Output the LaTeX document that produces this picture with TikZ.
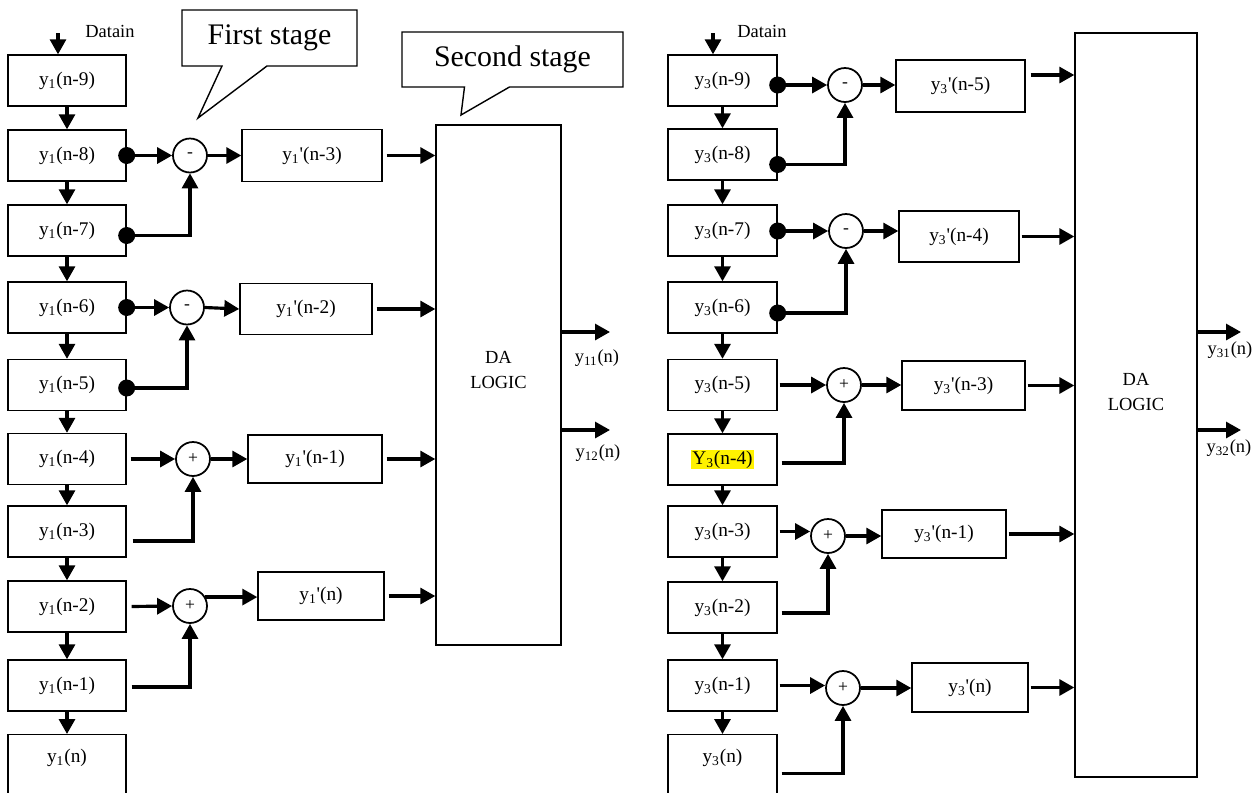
\documentclass[tikz,border=0pt]{standalone}
\usepackage{fontspec}
\setmainfont{Liberation Serif}
\usetikzlibrary{arrows.meta, shapes.callouts}

\begin{document}
\begin{tikzpicture}[x=0.02cm, y=-0.02cm,
    cell/.style={draw, line width=0.8pt, minimum height=1.02cm, inner sep=0pt, font=\fontsize{11}{13}\selectfont},
    sum/.style={draw, circle, line width=1pt, minimum size=0.68cm, inner sep=0pt, font=\normalsize},
    flow/.style={line width=1.8pt, -{Triangle[length=0.3cm, width=0.32cm]}},
    da/.style={draw, line width=0.8pt, align=center, font=\fontsize{10.5}{14}\selectfont},
    tag/.style={rectangle callout, draw, line width=0.8pt, callout pointer width=0.9cm, font=\fontsize{17}{20}\selectfont},
    lbl/.style={font=\fontsize{10.5}{12}\selectfont}]
    \useasboundingbox (0,0) rectangle (1259,792);
    \clip (0,0) rectangle (1259,792);

    % first filter: delay line
    \foreach \i/\t/\y in {1/-9/80.5, 2/-8/155.5, 3/-7/230.5, 4/-6/307.5, 5/-5/385, 6/-4/459, 7/-3/531.5, 8/-2/606.5, 9/-1/685.5}
        \node[cell, minimum width=2.36cm] (l\i) at (67,\y) {y\textsubscript{1}(n\t)};
    \node[cell, minimum width=2.36cm, minimum height=1.4cm, text depth=0.55cm, anchor=north] (l10) at (67,734) {y\textsubscript{1}(n)};
    \foreach \i [count=\j from 2] in {1,...,9}
        \draw[flow] (l\i.south) -- (l\j.north);
    \coordinate (inL) at (58,33);
    \draw[flow] (inL) -- (inL |- l1.north);
    \node[lbl] (dinL) at (110,31) {Datain};

    \node[sum] (m1) at (190,155.5) {-};
    \node[sum] (m2) at (187,307.5) {-};
    \node[sum] (m3) at (193,459) {+};
    \node[sum] (m4) at (190,606) {+};

    \node[cell, minimum width=2.8cm, minimum height=1.04cm] (p1) at (312,155.5) {y\textsubscript{1}\textquotesingle(n-3)};
    \node[cell, minimum width=2.64cm] (p2) at (306,309) {y\textsubscript{1}\textquotesingle(n-2)};
    \node[cell, minimum width=2.68cm, minimum height=0.96cm] (p3) at (315,459) {y\textsubscript{1}\textquotesingle(n-1)};
    \node[cell, minimum width=2.52cm, minimum height=0.96cm] (p4) at (321,596) {y\textsubscript{1}\textquotesingle(n)};

    \fill (l2.east) circle (0.17cm);
    \fill ([yshift=-0.1cm]l3.east) circle (0.17cm);
    \fill (l4.east) circle (0.17cm);
    \fill ([yshift=-0.06cm]l5.east) circle (0.17cm);
    \draw[flow] (l2.east) -- (m1.west);
    \draw[flow] ([yshift=-0.1cm]l3.east) -| (m1.south);
    \draw[flow] (l4.east) -- (m2.west);
    \draw[flow] ([yshift=-0.06cm]l5.east) -| (m2.south);
    \draw[flow] ([xshift=0.08cm]l6.east) -- (m3.west);
    \draw[flow] ([shift={(0.12cm,-0.19cm)}]l7.east) -| (m3.south);
    \draw[flow] ([xshift=0.1cm]l8.east) -- (m4.west);
    \draw[flow] ([shift={(0.1cm,-0.03cm)}]l9.east) -| (m4.south);

    \draw[flow] (m1.east) -- (p1.west);
    \draw[flow] (m2.east) -- (p2.west);
    \draw[flow] (m3.east) -- (p3.west);
    \draw[flow] (m4.30) -- (m4.30 -| p4.west);

    \node[da, minimum width=2.5cm, minimum height=10.4cm, text depth=0.6cm] (da1) at (498.5,385) {DA\\LOGIC};
    \foreach \p in {p1,p2,p3,p4}
        \draw[flow] ([xshift=0.08cm]\p.east) -- (\p.east -| da1.west);
    \coordinate (o11) at (610,332);
    \coordinate (o12) at (610,430);
    \draw[flow] (o11 -| da1.east) -- (o11);
    \draw[flow] (o12 -| da1.east) -- (o12);
    \node[lbl] (t11) at (597,358) {y\textsubscript{11}(n)};
    \node[lbl] (t12) at (598,453) {y\textsubscript{12}(n)};

    \node[tag, minimum width=3.5cm, minimum height=1.12cm, callout absolute pointer={(198,118)}] (st1) at (269.5,38) {First stage};
    \node[tag, minimum width=4.42cm, minimum height=1.1cm, callout absolute pointer={(461,115)}] (st2) at (512.5,59.5) {Second stage};

    % third filter: delay line
    \foreach \i/\t/\y in {1/-9/80.5, 2/-8/154.5, 3/-7/230.5, 4/-6/307.5, 5/-5/385, 7/-3/531.5, 8/-2/607.5, 9/-1/685.5}
        \node[cell, minimum width=2.18cm] (s\i) at (722.5,\y) {y\textsubscript{3}(n\t)};
    \node[cell, minimum width=2.18cm] (s6) at (722.5,459.5) {{\setlength{\fboxsep}{0.6pt}\colorbox{yellow}{Y\textsubscript{3}(n-4)}}};
    \node[cell, minimum width=2.18cm, minimum height=1.4cm, text depth=0.55cm, anchor=north] (s10) at (722.5,734) {y\textsubscript{3}(n)};
    \foreach \i [count=\j from 2] in {1,...,9}
        \draw[flow] (s\i.south) -- (s\j.north);
    \coordinate (inR) at (713,33);
    \draw[flow] (inR) -- (inR |- s1.north);
    \node[lbl] (dinR) at (762,31) {Datain};

    \node[sum] (r1) at (845,85) {-};
    \node[sum] (r2) at (846,231) {-};
    \node[sum] (r3) at (844,385) {+};
    \node[sum] (r4) at (828,536) {+};
    \node[sum] (r5) at (843,688) {+};

    \node[cell, minimum width=2.58cm, minimum height=1.04cm] (q1) at (960.5,86) {y\textsubscript{3}\textquotesingle(n-5)};
    \node[cell, minimum width=2.4cm] (q2) at (959,236.5) {y\textsubscript{3}\textquotesingle(n-4)};
    \node[cell, minimum width=2.46cm, minimum height=0.98cm] (q3) at (963.5,385.5) {y\textsubscript{3}\textquotesingle(n-3)};
    \node[cell, minimum width=2.48cm, minimum height=0.96cm] (q4) at (944,534) {y\textsubscript{3}\textquotesingle(n-1)};
    \node[cell, minimum width=2.32cm, minimum height=0.98cm] (q5) at (970,687.5) {y\textsubscript{3}\textquotesingle(n)};

    \fill (s1.east |- r1) circle (0.17cm);
    \fill ([yshift=-0.2cm]s2.east) circle (0.17cm);
    \fill (s3.east |- r2) circle (0.17cm);
    \fill ([yshift=-0.11cm]s4.east) circle (0.17cm);
    \draw[flow] (s1.east |- r1) -- (r1.west);
    \draw[flow] ([yshift=-0.2cm]s2.east) -| (r1.south);
    \draw[flow] (s3.east |- r2) -- (r2.west);
    \draw[flow] ([yshift=-0.11cm]s4.east) -| (r2.south);
    \draw[flow] ([xshift=0.04cm]s5.east) -- (r3.west);
    \draw[flow] ([shift={(0.08cm,-0.07cm)}]s6.east) -| (r3.south);
    \draw[flow] ([xshift=0.04cm]s7.east) -- (s7.east -| r4.west);
    \draw[flow] ([shift={(0.08cm,-0.11cm)}]s8.east) -| (r4.south);
    \draw[flow] ([xshift=0.04cm]s9.east) -- (s9.east -| r5.west);
    \draw[flow] ([shift={(0.08cm,-0.08cm)}]s10.east) -| (r5.south);

    \draw[flow] (r1.east) -- (r1.east -| q1.west);
    \draw[flow] (r2.east) -- (r2.east -| q2.west);
    \draw[flow] (r3.east) -- (r3.east -| q3.west);
    \draw[flow] (r4.east) -- (r4.east -| q4.west);
    \draw[flow] (r5.east) -- (r5.east -| q5.west);

    \node[da, minimum width=2.44cm, minimum height=14.88cm, text depth=0.52cm] (da2) at (1136,405) {DA\\LOGIC};
    \draw[flow] ([shift={(0.1cm,0.22cm)}]q1.east) -- ([yshift=0.22cm]q1.east -| da2.west);
    \foreach \q in {q2,q3,q4,q5}
        \draw[flow] ([xshift=0.04cm]\q.east) -- (\q.east -| da2.west);
    \coordinate (o31) at (1241,332);
    \coordinate (o32) at (1241,430);
    \draw[flow] (o31 -| da2.east) -- (o31);
    \draw[flow] (o32 -| da2.east) -- (o32);
    \node[lbl] (t31) at (1230,350) {y\textsubscript{31}(n)};
    \node[lbl] (t32) at (1229,448) {y\textsubscript{32}(n)};
\end{tikzpicture}
\end{document}
